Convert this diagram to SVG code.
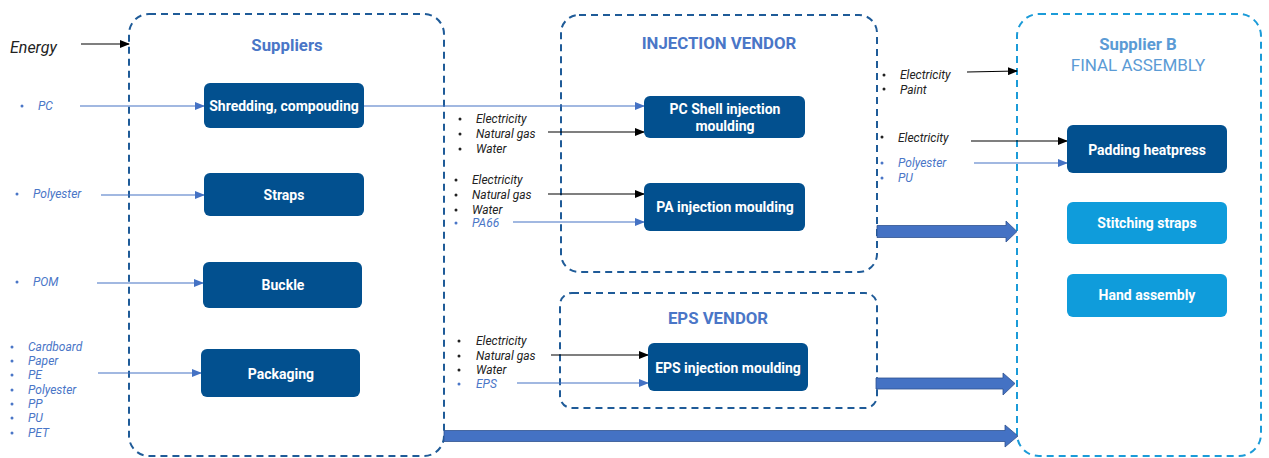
<svg xmlns="http://www.w3.org/2000/svg" width="1269" height="458" viewBox="0 0 1269 458">
  <defs>
    <style>
      .zone { fill: none; stroke: #1f5b98; stroke-width: 2; stroke-dasharray: 7 5; }
      .zone-b { fill: none; stroke: #1b9bd8; stroke-width: 2; stroke-dasharray: 7 5; }
      .node { fill: #02508f; }
      .node-light { fill: #0f9cdb; }
      .ntext { font-family: Roboto, "Liberation Sans", sans-serif; font-weight: bold; font-size: 14px; fill: #ffffff; text-anchor: middle; }
      .title { font-family: Roboto, "Liberation Sans", sans-serif; font-weight: bold; font-size: 16.8px; fill: #4a76c7; text-anchor: middle; }
      .title-b { font-family: Roboto, "Liberation Sans", sans-serif; font-size: 17px; fill: #5b9bd5; text-anchor: middle; }
      .lbl { font-family: Roboto, "Liberation Sans", sans-serif; font-style: italic; font-size: 12px; fill: #222222; }
      .lbl-blue { font-family: Roboto, "Liberation Sans", sans-serif; font-style: italic; font-size: 12px; fill: #4a76c7; }
      .dot { fill: #222222; }
      .dot-blue { fill: #4a76c7; }
      .blue { stroke: #4472c4; stroke-width: 1.2; fill: none; }
      .black { stroke: #000000; stroke-width: 1.2; fill: none; }
      .big { fill: #4472c4; stroke: #2f528f; stroke-width: 0.8; }
    </style>
    <marker id="ah-blue" markerWidth="10" markerHeight="8" refX="9" refY="4" orient="auto" markerUnits="userSpaceOnUse">
      <path d="M0,0 L10,4 L0,8 Z" fill="#4472c4"/>
    </marker>
    <marker id="ah-black" markerWidth="10" markerHeight="8" refX="9" refY="4" orient="auto" markerUnits="userSpaceOnUse">
      <path d="M0,0 L10,4 L0,8 Z" fill="#000000"/>
    </marker>
  </defs>

  <rect width="1269" height="458" fill="#ffffff"/>

  <!-- Process zones -->
  <g id="zone-suppliers">
    <rect class="zone" x="129" y="14" width="315" height="442" rx="20"/>
    <text class="title" x="287" y="51">Suppliers</text>
  </g>
  <g id="zone-injection">
    <rect class="zone" x="561" y="15" width="316" height="257" rx="18"/>
    <text class="title" x="719" y="49">INJECTION VENDOR</text>
  </g>
  <g id="zone-eps">
    <rect class="zone" x="560" y="293" width="317" height="115" rx="12"/>
    <text class="title" x="718" y="324">EPS VENDOR</text>
  </g>
  <g id="zone-supplier-b">
    <rect class="zone-b" x="1017" y="14" width="244" height="442" rx="22"/>
    <text class="title" x="1138" y="50" style="fill:#5b9bd5">Supplier B</text>
    <text class="title-b" x="1138" y="71">FINAL ASSEMBLY</text>
  </g>

  <!-- Connectors -->
  <g id="connectors">
    <line class="black" x1="81" y1="44" x2="129" y2="44" marker-end="url(#ah-black)"/>
    <line class="blue" x1="80" y1="106" x2="204" y2="106" marker-end="url(#ah-blue)"/>
    <line class="blue" x1="364" y1="106" x2="644" y2="106" marker-end="url(#ah-blue)"/>
    <line class="blue" x1="101" y1="195" x2="204" y2="195" marker-end="url(#ah-blue)"/>
    <line class="blue" x1="97" y1="283" x2="203" y2="283" marker-end="url(#ah-blue)"/>
    <line class="blue" x1="98" y1="373" x2="201" y2="373" marker-end="url(#ah-blue)"/>
    <line class="black" x1="548" y1="132" x2="644" y2="132" marker-end="url(#ah-black)"/>
    <line class="black" x1="548" y1="194" x2="644" y2="194" marker-end="url(#ah-black)"/>
    <line class="blue" x1="513" y1="222" x2="644" y2="222" marker-end="url(#ah-blue)"/>
    <line class="black" x1="551" y1="355" x2="648" y2="355" marker-end="url(#ah-black)"/>
    <line class="blue" x1="517" y1="383" x2="648" y2="383" marker-end="url(#ah-blue)"/>
    <line class="black" x1="967" y1="72" x2="1017" y2="71" marker-end="url(#ah-black)"/>
    <line class="black" x1="971" y1="141" x2="1067" y2="141" marker-end="url(#ah-black)"/>
    <line class="blue" x1="974" y1="163" x2="1067" y2="163" marker-end="url(#ah-blue)"/>
    <!-- block flow arrows into final assembly -->
    <path class="big" d="M877,225.5 L1006,225.5 L1006,221 L1017,231.5 L1006,242 L1006,237.5 L877,237.5 Z"/>
    <path class="big" d="M876,378 L1003,378 L1003,373 L1015,383.5 L1003,395 L1003,389 L876,389 Z"/>
    <path class="big" d="M444,430.5 L1005,430.5 L1005,425 L1018,436 L1005,447 L1005,441.5 L444,441.5 Z"/>
  </g>

  <!-- Input labels -->
  <g id="inputs">
    <text class="lbl" x="10" y="53" style="font-size:16px">Energy</text>

    <circle class="dot-blue" cx="22" cy="106" r="1.5"/>
    <text class="lbl-blue" x="38" y="110">PC</text>
    <circle class="dot-blue" cx="17" cy="194" r="1.5"/>
    <text class="lbl-blue" x="33" y="198">Polyester</text>
    <circle class="dot-blue" cx="17" cy="282" r="1.5"/>
    <text class="lbl-blue" x="33" y="286">POM</text>

    <circle class="dot-blue" cx="12" cy="347" r="1.5"/>
    <circle class="dot-blue" cx="12" cy="361" r="1.5"/>
    <circle class="dot-blue" cx="12" cy="375" r="1.5"/>
    <circle class="dot-blue" cx="12" cy="390" r="1.5"/>
    <circle class="dot-blue" cx="12" cy="404" r="1.5"/>
    <circle class="dot-blue" cx="12" cy="418" r="1.5"/>
    <circle class="dot-blue" cx="12" cy="433" r="1.5"/>
    <text class="lbl-blue" x="28" y="351">Cardboard</text>
    <text class="lbl-blue" x="28" y="365">Paper</text>
    <text class="lbl-blue" x="28" y="379">PE</text>
    <text class="lbl-blue" x="28" y="394">Polyester</text>
    <text class="lbl-blue" x="28" y="408">PP</text>
    <text class="lbl-blue" x="28" y="422">PU</text>
    <text class="lbl-blue" x="28" y="437">PET</text>

    <circle class="dot" cx="460" cy="119" r="1.5"/>
    <circle class="dot" cx="460" cy="134" r="1.5"/>
    <circle class="dot" cx="460" cy="149" r="1.5"/>
    <text class="lbl" x="476" y="123">Electricity</text>
    <text class="lbl" x="476" y="138">Natural gas</text>
    <text class="lbl" x="476" y="153">Water</text>

    <circle class="dot" cx="456" cy="180" r="1.5"/>
    <circle class="dot" cx="456" cy="195" r="1.5"/>
    <circle class="dot" cx="456" cy="210" r="1.5"/>
    <circle class="dot-blue" cx="456" cy="223" r="1.5"/>
    <text class="lbl" x="472" y="184">Electricity</text>
    <text class="lbl" x="472" y="199">Natural gas</text>
    <text class="lbl" x="472" y="214">Water</text>
    <text class="lbl-blue" x="472" y="227">PA66</text>

    <circle class="dot" cx="459" cy="341" r="1.5"/>
    <circle class="dot" cx="459" cy="356" r="1.5"/>
    <circle class="dot" cx="459" cy="370" r="1.5"/>
    <circle class="dot-blue" cx="459" cy="384" r="1.5"/>
    <text class="lbl" x="476" y="345">Electricity</text>
    <text class="lbl" x="476" y="360">Natural gas</text>
    <text class="lbl" x="476" y="374">Water</text>
    <text class="lbl-blue" x="476" y="388">EPS</text>

    <circle class="dot" cx="884" cy="75" r="1.5"/>
    <circle class="dot" cx="884" cy="89" r="1.5"/>
    <text class="lbl" x="900" y="79">Electricity</text>
    <text class="lbl" x="900" y="94">Paint</text>

    <circle class="dot" cx="882" cy="137" r="1.5"/>
    <text class="lbl" x="898" y="142">Electricity</text>
    <circle class="dot-blue" cx="882" cy="163" r="1.5"/>
    <circle class="dot-blue" cx="882" cy="178" r="1.5"/>
    <text class="lbl-blue" x="898" y="167">Polyester</text>
    <text class="lbl-blue" x="898" y="182">PU</text>
  </g>

  <!-- Process steps -->
  <g id="node-shredding">
    <rect class="node" x="204" y="83" width="160" height="45" rx="6"/>
    <text class="ntext" x="284" y="111">Shredding, compouding</text>
  </g>
  <g id="node-straps">
    <rect class="node" x="204" y="173" width="160" height="43" rx="6"/>
    <text class="ntext" x="284" y="200">Straps</text>
  </g>
  <g id="node-buckle">
    <rect class="node" x="203" y="262" width="159" height="46" rx="6"/>
    <text class="ntext" x="283" y="290">Buckle</text>
  </g>
  <g id="node-packaging">
    <rect class="node" x="201" y="349" width="159" height="48" rx="6"/>
    <text class="ntext" x="281" y="379">Packaging</text>
  </g>
  <g id="node-pc-shell">
    <rect class="node" x="644" y="96" width="161" height="42" rx="6"/>
    <text class="ntext" x="725" y="114">PC Shell injection</text>
    <text class="ntext" x="725" y="131">moulding</text>
  </g>
  <g id="node-pa">
    <rect class="node" x="644" y="183" width="161" height="48" rx="6"/>
    <text class="ntext" x="725" y="212">PA injection moulding</text>
  </g>
  <g id="node-eps">
    <rect class="node" x="648" y="343" width="160" height="48" rx="6"/>
    <text class="ntext" x="728" y="373">EPS injection moulding</text>
  </g>
  <g id="node-padding">
    <rect class="node" x="1067" y="125" width="160" height="48" rx="6"/>
    <text class="ntext" x="1147" y="155">Padding heatpress</text>
  </g>
  <g id="node-stitching">
    <rect class="node-light" x="1067" y="202" width="160" height="42" rx="6"/>
    <text class="ntext" x="1147" y="228">Stitching straps</text>
  </g>
  <g id="node-hand">
    <rect class="node-light" x="1067" y="274" width="160" height="43" rx="6"/>
    <text class="ntext" x="1147" y="300">Hand assembly</text>
  </g>
</svg>
